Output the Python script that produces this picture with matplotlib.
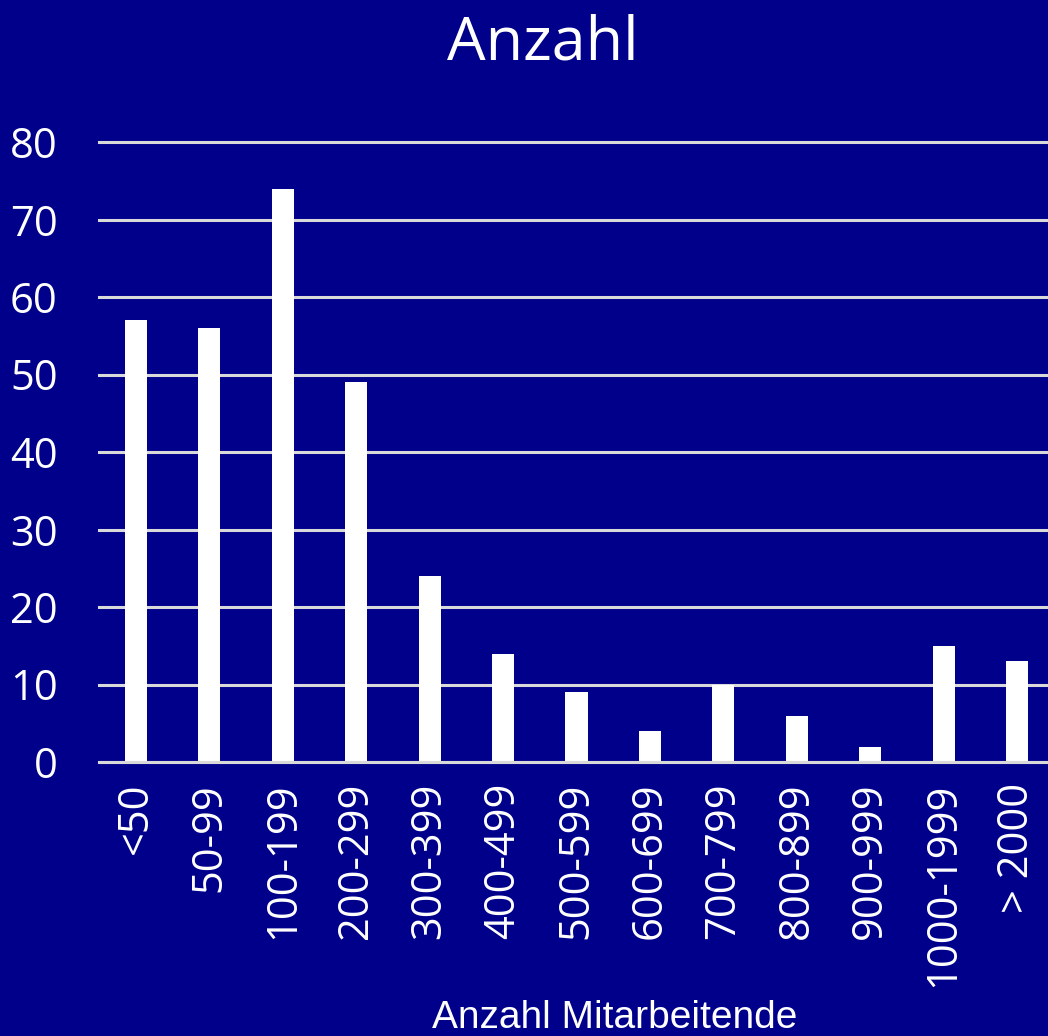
import matplotlib
matplotlib.use("Agg")
import matplotlib.pyplot as plt

categories = ["<50", "50-99", "100-199", "200-299", "300-399", "400-499", "500-599",
              "600-699", "700-799", "800-899", "900-999", "1000-1999", "> 2000"]
values = [57, 56, 74, 49, 24, 14, 9, 4, 10, 6, 2, 15, 13]
y_ticks = [0, 10, 20, 30, 40, 50, 60, 70, 80]

BG = "#00008B"
GRID = "#D9D9D9"

fig = plt.figure(figsize=(10.48, 10.36), dpi=100, facecolor=BG)
W, H = 1048, 1036
left_px, right_px = 99.3, 1053.7
top_px, bottom_px = 142, 762
ax = fig.add_axes([left_px / W, 1 - bottom_px / H, (right_px - left_px) / W, (bottom_px - top_px) / H])
ax.set_facecolor(BG)

x = list(range(len(categories)))
ax.bar(x, values, width=0.3, color="white", zorder=3)

ax.set_xlim(-0.5, len(categories) - 0.5)
ax.set_ylim(0, 80)
ax.set_yticks(y_ticks)
ax.yaxis.grid(True, color=GRID, linewidth=2.2, zorder=1)
ax.set_axisbelow(True)
for gl in ax.yaxis.get_gridlines():
    gl.set_clip_on(False)
ax.axhline(0, color=GRID, linewidth=2.2, zorder=4, clip_on=False)
for s in ax.spines.values():
    s.set_visible(False)

ax.tick_params(axis="both", length=0, colors="white")
ax.tick_params(axis="y", pad=30)
ax.tick_params(axis="x", pad=15)
ax.set_xticks(x)
ax.set_xticklabels(categories, rotation=90, fontsize=30, family="Open Sans", color="white", va="top")
for lbl in ax.get_yticklabels():
    lbl.set_fontsize(30)
    lbl.set_family("Open Sans")
    lbl.set_color("white")

fig.text(543 / W, 1 - 60 / H, "Anzahl", ha="center", va="baseline", fontsize=44,
         family="Open Sans", color="white")
fig.text(615 / W, 1 - 1028 / H, "Anzahl Mitarbeitende", ha="center", va="baseline",
         fontsize=28, family="Liberation Sans", color="white")

fig.savefig("out.png", dpi=100, facecolor=BG)
